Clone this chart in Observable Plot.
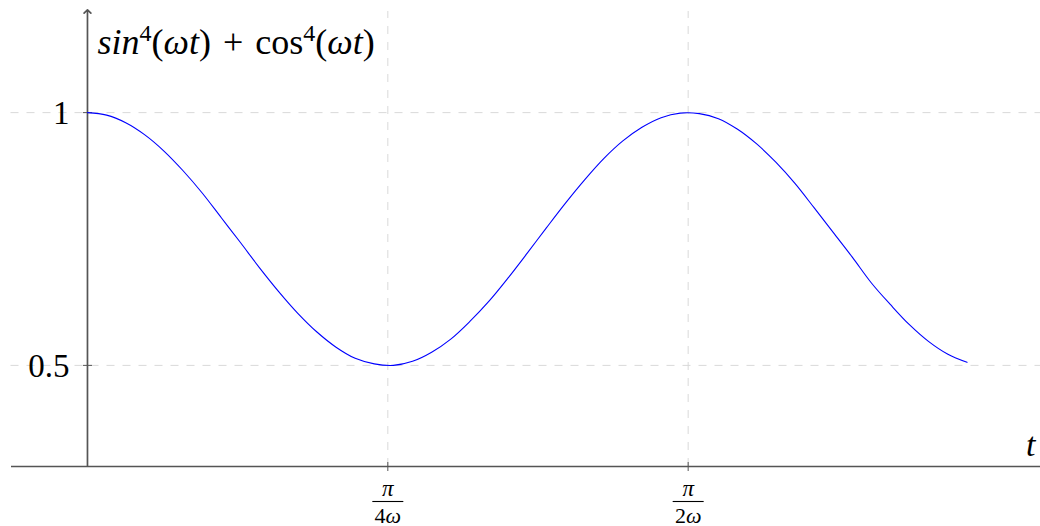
<!DOCTYPE html>
<html><head><meta charset="utf-8">
<script src="https://cdn.jsdelivr.net/npm/d3@7"></script>
<script src="https://cdn.jsdelivr.net/npm/@observablehq/plot@0.6"></script>
<style>body{margin:0;background:#fff}</style>
</head><body><div id="chart"></div>
<script>
// ---- data ----
const tValues = [0, 0.05, 0.1, 0.15, 0.2, 0.25, 0.3, 0.35, 0.4, 0.45, 0.5, 0.55, 0.6, 0.65, 0.7, 0.75, 0.8, 0.85, 0.9, 0.95, 1.0, 1.05, 1.1, 1.15, 1.2, 1.25, 1.3, 1.35, 1.4, 1.45, 1.5, 1.55, 1.6, 1.65, 1.7, 1.75, 1.8, 1.85, 1.9, 1.95, 2.0, 2.05, 2.1, 2.15, 2.2, 2.25, 2.3];
const yValues = [1.000, 0.995, 0.980, 0.956, 0.924, 0.885, 0.841, 0.792, 0.743, 0.693, 0.646, 0.603, 0.566, 0.536, 0.514, 0.503, 0.500, 0.508, 0.526, 0.552, 0.587, 0.627, 0.673, 0.722, 0.772, 0.821, 0.867, 0.909, 0.944, 0.971, 0.990, 0.999, 0.998, 0.988, 0.967, 0.938, 0.902, 0.860, 0.812, 0.763, 0.714, 0.663, 0.620, 0.580, 0.547, 0.522, 0.506];
const xTicks = [Math.PI / 4, Math.PI / 2];
const xTickNumerators = ["π", "π"];
const xTickDenominators = ["4ω", "2ω"];
const yTicks = [0.5, 1];
const yTickLabels = ["0.5", "1"];
const xDomain = [-0.2, 2.5];
const yDomain = [0.3, 1.2];
const xAxisLabel = "t";
const yLabelParts = [["sin", "i"], ["4", "sup"], ["(", ""], ["ω", "i"], ["t", "i"], [")\u2004+\u2004cos", ""], ["4", "sup"], ["(", ""], ["ω", "i"], ["t", "i"], [")", ""]];

const curveData = tValues.map((t, i) => ({t, v: yValues[i]}));
const xTickData = xTicks.map((x, i) => ({x, num: xTickNumerators[i], den: xTickDenominators[i]}));
const yTickData = yTicks.map((y, i) => ({y, label: yTickLabels[i]}));

const hLine = (len) => ({draw(ctx) { ctx.moveTo(-len / 2, 0); ctx.lineTo(len / 2, 0); }});
const vLine = (len) => ({draw(ctx) { ctx.moveTo(0, -len / 2); ctx.lineTo(0, len / 2); }});

const axisColor = "#555";
const gridColor = "#d9d9d9";
const serif = "Liberation Serif";

const plot = Plot.plot({
  width: 1040,
  height: 526,
  margin: 0,
  x: {domain: xDomain, range: [10.5, 1043], axis: null},
  y: {domain: yDomain, range: [466, 11], axis: null},
  style: {fontFamily: serif, fontSize: "32px", background: "white", color: "black"},
  marks: [
    // grid
    Plot.ruleY(yTicks, {y: d => d, x1: () => xDomain[0], x2: () => xDomain[1], stroke: gridColor, strokeWidth: 1, strokeDasharray: "8,8"}),
    Plot.ruleX(xTicks, {x: d => d, y1: () => yDomain[0], y2: () => yDomain[1], stroke: gridColor, strokeWidth: 1, strokeDasharray: "8,8"}),
    // axes with arrows
    Plot.link([0], {x1: () => xDomain[0], x2: () => xDomain[1], y1: () => yDomain[0], y2: () => yDomain[0], stroke: axisColor, strokeWidth: 1.7, markerEnd: "arrow"}),
    Plot.link([0], {x1: () => 0, x2: () => 0, y1: () => yDomain[0], y2: () => yDomain[1], stroke: axisColor, strokeWidth: 1.7, markerEnd: "arrow"}),
    // ticks
    Plot.dot(xTicks, {x: d => d, y: () => yDomain[0], symbol: vLine(9), stroke: axisColor, strokeWidth: 1, fill: "none"}),
    Plot.dot(yTicks, {x: () => 0, y: d => d, symbol: hLine(9), stroke: axisColor, strokeWidth: 1, fill: "none"}),
    // curve
    Plot.line(curveData, {x: "t", y: "v", curve: "catmull-rom", stroke: "#0000ff", strokeWidth: 1.1}),
    // y tick labels
    Plot.text(yTickData, {x: () => 0, y: "y", text: "label", textAnchor: "end", dx: -18, dy: 1, fontSize: 33}),
    // x tick fraction labels
    Plot.text(xTickData, {x: "x", y: () => yDomain[0], text: "num", fontSize: 23, fontStyle: "italic", lineAnchor: "bottom", dy: 29}),
    Plot.dot(xTickData, {x: "x", y: () => yDomain[0], symbol: hLine(31), stroke: "black", strokeWidth: 1.1, fill: "none", dy: 35}),
    Plot.text(xTickData, {x: "x", y: () => yDomain[0], text: "den", fontSize: 22, lineAnchor: "bottom", dy: 56,
      render(index, scales, values, dims, ctx, next) {
        const g = next(index, scales, values, dims, ctx);
        d3.select(g).selectAll("text").each(function() {
          const s = this.textContent; const t = d3.select(this); t.text(null);
          t.append("tspan").text(s.slice(0, 1));
          t.append("tspan").attr("font-style", "italic").text(s.slice(1));
        });
        return g;
      }}),
    // x axis label
    Plot.text([xAxisLabel], {x: () => xDomain[1], y: () => yDomain[0], text: d => d, textAnchor: "end", lineAnchor: "bottom", dx: -8, dy: -11, fontStyle: "italic", fontSize: 34}),
    // y axis label
    Plot.text([yLabelParts.map(p => p[0]).join("")], {x: () => 0, y: () => yDomain[1], text: d => d, textAnchor: "start", lineAnchor: "bottom", dx: 10, dy: 42, fontSize: 36,
      render(index, scales, values, dims, ctx, next) {
        const g = next(index, scales, values, dims, ctx);
        d3.select(g).selectAll("text").each(function() {
          const t = d3.select(this); t.text(null);
          let raised = false;
          for (const [s, k] of yLabelParts) {
            const ts = t.append("tspan").text(s);
            if (k === "i") ts.attr("font-style", "italic");
            if (k === "sup") { ts.attr("font-size", 24).attr("dy", -13); raised = true; }
            else if (raised) { ts.attr("dy", 13); raised = false; }
          }
        });
        return g;
      }})
  ]
});
document.getElementById("chart").appendChild(plot);
</script>
</body></html>
